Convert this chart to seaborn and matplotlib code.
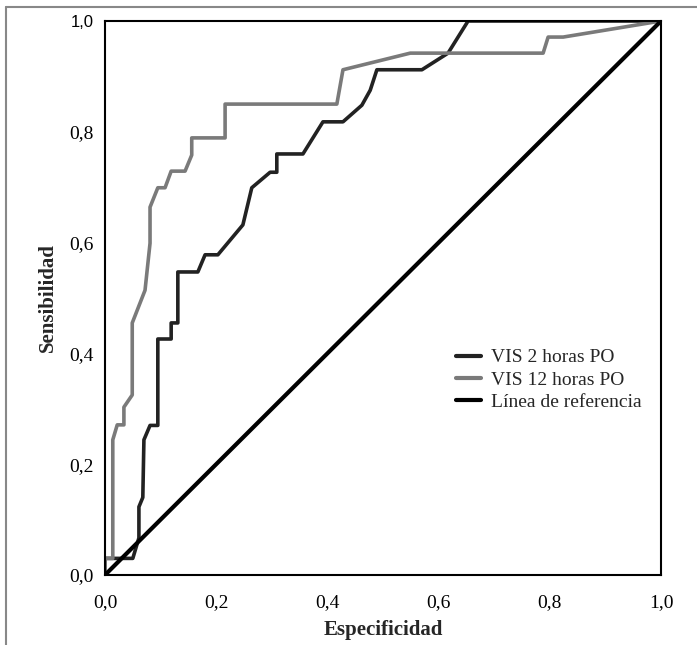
import numpy as np
import pandas as pd
import seaborn as sns
import matplotlib.pyplot as plt
from matplotlib.lines import Line2D

# ROC curve points (1 - especificidad, sensibilidad)
vis2_x = [0.0, 0.0, 0.05, 0.061, 0.061, 0.068, 0.070, 0.081, 0.095, 0.095, 0.119, 0.119,
          0.131, 0.131, 0.167, 0.180, 0.203, 0.248, 0.264, 0.297, 0.309, 0.309, 0.356,
          0.392, 0.428, 0.462, 0.477, 0.489, 0.570, 0.617, 0.653, 1.0]
vis2_y = [0.0, 0.03, 0.03, 0.067, 0.123, 0.14, 0.244, 0.27, 0.27, 0.426, 0.426, 0.455,
          0.455, 0.547, 0.547, 0.578, 0.578, 0.632, 0.699, 0.727, 0.727, 0.760, 0.760,
          0.818, 0.818, 0.848, 0.875, 0.912, 0.912, 0.942, 1.0, 1.0]

vis12_x = [0.0, 0.0, 0.014, 0.014, 0.022, 0.034, 0.034, 0.049, 0.049, 0.072, 0.081, 0.081,
           0.095, 0.108, 0.119, 0.144, 0.156, 0.156, 0.216, 0.216, 0.417, 0.428, 0.549,
           0.788, 0.797, 0.824, 1.0]
vis12_y = [0.0, 0.03, 0.03, 0.244, 0.271, 0.271, 0.303, 0.325, 0.455, 0.514, 0.599, 0.664,
           0.699, 0.699, 0.729, 0.729, 0.758, 0.789, 0.789, 0.850, 0.850, 0.912, 0.942,
           0.942, 0.971, 0.971, 1.0]

ref_x = [0.0, 1.0]
ref_y = [0.0, 1.0]

labels = ["VIS 2 horas PO", "VIS 12 horas PO", "Línea de referencia"]
ticks = [0.0, 0.2, 0.4, 0.6, 0.8, 1.0]
tick_labels = ["0,0", "0,2", "0,4", "0,6", "0,8", "1,0"]

sns.set_style("white")
plt.rcParams['font.family'] = ['Liberation Serif', 'DejaVu Serif']

fig = plt.figure(figsize=(6.97, 6.45), dpi=100)
ax = fig.add_axes([105 / 697, 70 / 645, 556 / 697, 554 / 645])

series = [
    (vis2_x, vis2_y, labels[0], "#222222", 2.6),
    (vis12_x, vis12_y, labels[1], "#7a7a7a", 2.6),
    (ref_x, ref_y, labels[2], "#000000", 3.0),
]
for xs, ys, lab, col, lw in series:
    df = pd.DataFrame({"x": xs, "y": ys})
    sns.lineplot(data=df, x="x", y="y", sort=False, estimator=None, ax=ax,
                 color=col, linewidth=lw, label=lab)

ax.set_xlim(0, 1)
ax.set_ylim(0, 1)
ax.set_xticks(ticks)
ax.set_yticks(ticks)
ax.set_xticklabels(tick_labels, fontsize=14)
ax.set_yticklabels(tick_labels, fontsize=14)
# the top y label is drawn in a sans font in the original
ax.get_yticklabels()[-1].set_fontfamily(['Liberation Sans'])
ax.get_yticklabels()[-1].set_fontsize(12)
ax.tick_params(axis="x", direction="out", length=8, width=1.5, pad=6, colors="black")
ax.tick_params(axis="y", direction="out", length=6, width=1.5, pad=2, colors="black")
for sp in ax.spines.values():
    sp.set_color("black")
    sp.set_linewidth(1.5)

ax.set_xlabel("Especificidad", fontsize=15, fontweight="bold", labelpad=6)
ax.set_ylabel("Sensibilidad", fontsize=15, fontweight="bold", labelpad=8)

leg = ax.legend(loc="upper left", bbox_to_anchor=(0.6, 0.44), frameon=False,
                fontsize=14, handlelength=1.3, handletextpad=0.5, labelspacing=0.25)
for h in leg.get_lines():
    h.set_linewidth(3)

# outer grey frame (top and left only)
fig.add_artist(Line2D([6 / 697, 1.0], [1 - 7 / 645, 1 - 7 / 645], color="#888888", linewidth=1.5))
fig.add_artist(Line2D([6 / 697, 6 / 697], [0.0, 1 - 7 / 645], color="#888888", linewidth=1.5))

fig.savefig("out.png", dpi=100)
